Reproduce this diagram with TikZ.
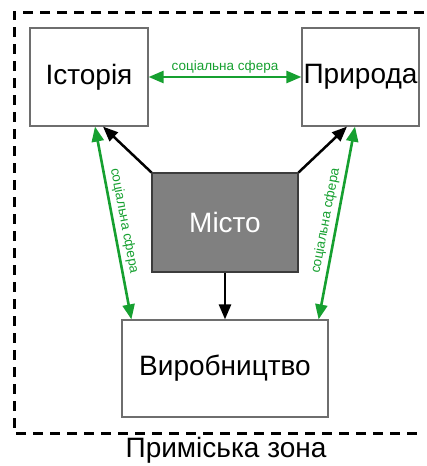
\documentclass[tikz,border=0pt]{standalone}
\usepackage{fontspec}
\setmainfont{Liberation Sans}
\usetikzlibrary{arrows.meta}
\definecolor{grn}{RGB}{22,160,48}
\definecolor{boxline}{RGB}{110,110,110}
\begin{document}
\begin{tikzpicture}[x=1pt,y=-1pt,
  box/.style={draw=boxline,line width=1.2pt,fill=white,inner sep=0pt,font=\fontsize{28}{30}\selectfont},
  blk/.style={-{Triangle[length=15pt,width=12pt]},line width=2.5pt,black},
  gr/.style={{Triangle[length=15pt,width=12pt]}-{Triangle[length=15pt,width=12pt]},line width=2.6pt,grn},
  glab/.style={font=\fontsize{13.5}{15}\selectfont,text=grn,inner sep=1.5pt}]
\useasboundingbox (0,0) rectangle (427,466);
\draw[line width=3pt,dash pattern=on 10pt off 7pt] (424,12) -- (14,12) -- (14,433) -- (424,433);
\node[box,minimum width=118pt,minimum height=98pt] (hist) at (89,77) {Історія};
\node[box,minimum width=117pt,minimum height=98pt] (nat) at (360.5,77) {Природа};
\node[box,fill={rgb,255:red,128;green,128;blue,128},draw={rgb,255:red,60;green,60;blue,60},text=white,minimum width=146pt,minimum height=99pt] (city) at (225,222.5) {Місто};
\node[box,minimum width=206pt,minimum height=97pt] (prod) at (225,368.5) {Виробництво};
\node[font=\fontsize{28}{30}\selectfont,inner sep=0pt] (zone) at (226,450) {Приміська зона};
\draw[gr] (hist.east) -- node[glab,above=1pt] {соціальна сфера} (nat.west);
\draw[blk] (city.north west) -- ([xshift=14pt]hist.south);
\draw[blk] (city.north east) -- ([xshift=-13.5pt]nat.south);
\draw[blk] (city.south) -- (prod.north);
\draw[gr] ([xshift=6pt]hist.south) -- node[glab,sloped,above=2pt] {соціальна сфера} ([xshift=10pt]prod.north west);
\draw[gr] ([xshift=-10pt]prod.north east) -- node[glab,sloped,above=2pt] {соціальна сфера} ([xshift=-5.5pt]nat.south);
\end{tikzpicture}
\end{document}
